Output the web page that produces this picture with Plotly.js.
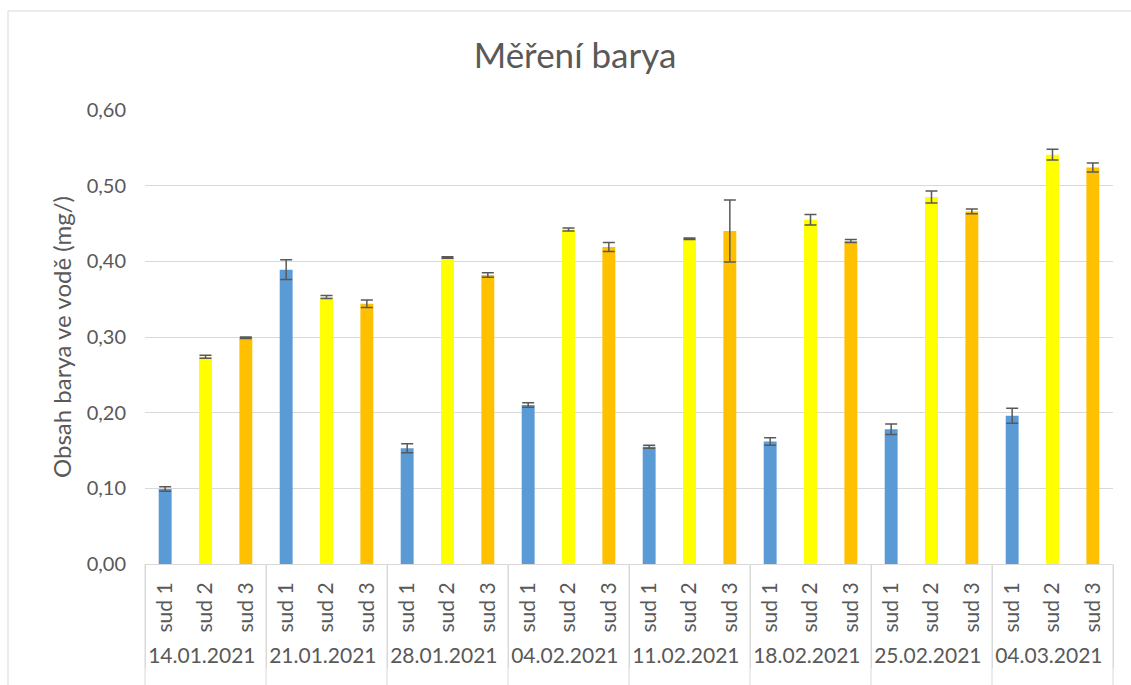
<!DOCTYPE html>
<html><head><meta charset="utf-8">
<script src="https://cdn.plot.ly/plotly-3.0.1.min.js"></script>
<style>html,body{margin:0;padding:0;background:#fff}#chart{width:1131px;height:685px}</style>
</head><body><div id="chart"></div>
<script>
const dates = ['14.01.2021','21.01.2021','28.01.2021','04.02.2021','11.02.2021','18.02.2021','25.02.2021','04.03.2021'];
const seriesNames = ['sud 1','sud 2','sud 3'];
const sud1 = [0.099, 0.389, 0.153, 0.210, 0.155, 0.162, 0.178, 0.196];
const sud1Err = [0.003, 0.013, 0.006, 0.003, 0.002, 0.005, 0.007, 0.010];
const sud2 = [0.274, 0.353, 0.405, 0.442, 0.430, 0.455, 0.485, 0.541];
const sud2Err = [0.002, 0.002, 0.001, 0.002, 0.001, 0.007, 0.008, 0.007];
const sud3 = [0.299, 0.344, 0.382, 0.419, 0.440, 0.427, 0.466, 0.524];
const sud3Err = [0.001, 0.005, 0.003, 0.006, 0.041, 0.002, 0.003, 0.006];
const colors = ['#5B9BD5', '#FFFF00', '#FFC000'];
const yTitle = 'Obsah barya ve vodě (mg/)';
const chartTitle = 'Měření barya';

const FONT = 'Lato, "Open Sans", sans-serif';
const TXT = '#595959';
const GRID = '#D9D9D9';

const vals = [sud1, sud2, sud3];
const errs = [sud1Err, sud2Err, sud3Err];
const data = seriesNames.map((name, i) => ({
  type: 'bar',
  name: name,
  x: [dates, dates.map(() => name)],
  y: vals[i],
  width: 0.32,
  marker: {color: colors[i], line: {width: 0}},
  error_y: {type: 'data', array: errs[i], visible: true, color: '#595959', thickness: 1.5, width: 6},
  hoverinfo: 'none'
}));

// group divider extensions down to the bottom edge (one per group boundary)
const dividerShapes = [];
for (let k = 0; k <= dates.length; k++) {
  dividerShapes.push({
    type: 'line', xref: 'paper', yref: 'paper',
    x0: k / dates.length, x1: k / dates.length, y0: 0, y1: -0.4,
    line: {color: GRID, width: 1}, layer: 'below'
  });
}

const layout = {
  width: 1131, height: 685,
  paper_bgcolor: '#ffffff', plot_bgcolor: '#ffffff',
  separators: ', ',
  showlegend: false,
  barmode: 'overlay',
  margin: {l: 145, r: 18, t: 110, b: 121, pad: 0},
  font: {family: FONT, color: TXT},
  title: {text: chartTitle, font: {family: FONT, size: 35, color: TXT}, x: 575/1131, xref: 'container', xanchor: 'center', y: 1 - 56/685, yref: 'container', yanchor: 'middle'},
  xaxis: {
    type: 'multicategory',
    tickangle: -90,
    tickfont: {family: FONT, size: 21, color: TXT},
    ticklabelstandoff: 9,
    showline: true, linecolor: GRID, linewidth: 1,
    showgrid: false, ticks: '', zeroline: false,
    showdividers: true, dividercolor: GRID, dividerwidth: 1
  },
  yaxis: {
    range: [0, 0.6], dtick: 0.1, tick0: 0, tickformat: '.2f',
    showgrid: true, gridcolor: GRID, gridwidth: 1,
    zeroline: false, showline: false, ticks: '',
    ticklabelstandoff: 18,
    tickfont: {family: FONT, size: 20, color: TXT},
    title: {text: yTitle, font: {family: FONT, size: 24, color: TXT}, standoff: 8}
  },
  shapes: [{
    type: 'rect', xref: 'paper', yref: 'paper',
    x0: (8 - 145) / 968, x1: 1.2, y0: -0.5, y1: (564 - 11) / 454,
    line: {color: GRID, width: 1}, fillcolor: 'rgba(0,0,0,0)', layer: 'below'
  }].concat(dividerShapes)
};

Plotly.newPlot('chart', data, layout, {staticPlot: true, displayModeBar: false});
</script></body></html>
